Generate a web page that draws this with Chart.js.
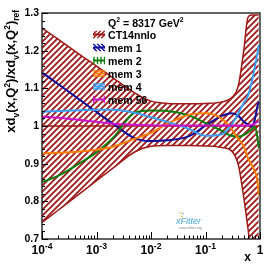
<!DOCTYPE html>
<html>
<head>
<meta charset="utf-8">
<script src="https://cdn.jsdelivr.net/npm/chart.js@4.4.1/dist/chart.umd.min.js"></script>
<style>
html, body { margin: 0; padding: 0; background: #fff; }
canvas { display: block; }
</style>
</head>
<body>
<canvas id="ratio-chart" width="274" height="266"></canvas>
<script>
// x grid shared by every curve
const xValues = [1e-4, 2e-4, 5e-4, 1e-3, 2e-3, 5e-3, 0.01, 0.02, 0.05, 0.1, 0.2, 0.3, 0.4, 0.5, 0.6, 0.7, 0.8, 0.9, 0.95]

// CT14nnlo error band (upper / lower edges) and central value
const ct14Upper = [1.260, 1.230, 1.189, 1.159, 1.128, 1.088, 1.066, 1.060, 1.059, 1.060, 1.064, 1.075, 1.107, 1.197, 1.288, 1.295, 1.295, 1.295, 1.295]
const ct14Lower = [0.744, 0.777, 0.821, 0.855, 0.888, 0.931, 0.946, 0.948, 0.948, 0.947, 0.943, 0.934, 0.897, 0.814, 0.729, 0.650, 0.580, 0.520, 0.500]
const ct14Central = [1, 1, 1, 1, 1, 1, 1, 1, 1, 1, 1, 1, 1, 1, 1, 1, 1, 1, 1]

// members
const mem1 = [1.142, 1.111, 1.069, 1.037, 1.006, 0.968, 0.960, 0.962, 0.973, 1.001, 1.027, 1.034, 1.027, 1.012, 1.004, 0.999, 1.016, 1.053, 1.064]
const mem2 = [0.851, 0.868, 0.902, 0.930, 0.968, 1.035, 1.041, 1.040, 1.028, 1.008, 0.987, 0.974, 0.972, 0.976, 0.983, 0.990, 0.998, 0.968, 0.942]
const mem3 = [0.927, 0.929, 0.932, 0.937, 0.945, 0.966, 0.982, 1.006, 1.030, 1.034, 1.019, 0.992, 0.966, 0.947, 0.915, 0.897, 0.880, 0.855, 0.815]
const mem4 = [1.038, 1.040, 1.042, 1.043, 1.043, 1.035, 1.023, 1.011, 0.992, 0.974, 0.978, 1.003, 1.034, 1.061, 1.080, 1.115, 1.155, 1.194, 1.216]
const mem56 = [1.025, 1.022, 1.016, 1.011, 1.006, 1.003, 1.002, 1.001, 1.001, 1.001, 1.001, 1.001, 1.001, 1.001, 1.002, 1.003, 1.006, 1.011, 1.012]

const seriesNames = ['CT14nnlo', 'mem 1', 'mem 2', 'mem 3', 'mem 4', 'mem 56']
const seriesColors = ['#a01818', '#0c0c9c', '#0a7d0a', '#ff7a00', '#3aa0f5', '#cc10cc']

const yTickValues = [0.7, 0.8, 0.9, 1.0, 1.1, 1.2, 1.3]
const xTickValues = [1e-4, 1e-3, 1e-2, 1e-1, 1]
const xTickBases = ['10', '10', '10', '10', '1']
const xTickExps = ['-4', '-3', '-2', '-1', '']

const FONT = '"Liberation Sans", Arial, Helvetica, sans-serif'

function pts(ys) {
    return xValues.map((x, i) => ({ x: x, y: ys[i] }))
}

function hatch(color, size, lw) {
    const c = document.createElement('canvas')
    c.width = c.height = size
    const g = c.getContext('2d')
    g.strokeStyle = color
    g.lineWidth = lw
    g.beginPath()
    g.moveTo(0, size); g.lineTo(size, 0)
    g.moveTo(-size / 2, size / 2); g.lineTo(size / 2, -size / 2)
    g.moveTo(size / 2, size * 1.5); g.lineTo(size * 1.5, size / 2)
    g.stroke()
    return g.createPattern(c, 'repeat')
}

const bandPattern = hatch(seriesColors[0], 6, 1.8)

// text with super/subscripts, parts: [text, shift, scale]
function richText(ctx, parts, x, y, size, measureOnly) {
    let w = 0
    parts.forEach(p => {
        const s = size * (p[2] || 1)
        ctx.font = 'bold ' + s + 'px ' + FONT
        if (!measureOnly) ctx.fillText(p[0], x + w, y + (p[1] || 0) * size)
        w += ctx.measureText(p[0]).width
    })
    return w
}

function line(ctx, x1, y1, x2, y2) {
    ctx.beginPath(); ctx.moveTo(x1, y1); ctx.lineTo(x2, y2); ctx.stroke()
}

const decorations = {
    id: 'decorations',
    afterDraw(chart) {
        const { ctx, chartArea: a, scales: { x, y } } = chart
        ctx.save()

        // frame
        ctx.strokeStyle = '#222'
        ctx.lineWidth = 1.4
        ctx.strokeRect(a.left, a.top, a.right - a.left, a.bottom - a.top)

        // inner ticks
        ctx.lineWidth = 1
        ctx.strokeStyle = '#000'
        ctx.beginPath()
        for (let i = 0; i <= 30; i++) {
            const py = Math.round(y.getPixelForValue(0.7 + i * 0.02)) + 0.5
            const len = i % 5 === 0 ? 6 : 3
            ctx.moveTo(a.left, py); ctx.lineTo(a.left + len, py)
        }
        for (let e = -4; e <= 0; e++) {
            for (let m = 1; m < 10; m++) {
                const v = m * Math.pow(10, e)
                if (v > 1) break
                const px = Math.round(x.getPixelForValue(v)) + 0.5
                const len = m === 1 ? 7 : 3.5
                ctx.moveTo(px, a.bottom); ctx.lineTo(px, a.bottom - len)
            }
        }
        ctx.stroke()

        // x tick labels
        ctx.fillStyle = '#000'
        ctx.textBaseline = 'alphabetic'
        ctx.textAlign = 'left'
        xTickValues.forEach((v, i) => {
            const parts = [[xTickBases[i]]]
            if (xTickExps[i]) parts.push([xTickExps[i], -0.42, 0.72])
            const w = richText(ctx, parts, 0, 0, 12, true)
            const px = x.getPixelForValue(v)
            richText(ctx, parts, px - w / 2, 254, 12)
        })

        // axis titles
        ctx.font = 'bold 12px ' + FONT
        ctx.textAlign = 'right'
        ctx.fillText('x', 251, 261)
        ctx.textAlign = 'left'

        const yTitle = [['xd'], ['v', 0.3, 0.65], ['(x,Q'], ['2', -0.4, 0.65], [')/xd'], ['v', 0.3, 0.65],
                        ['(x,Q'], ['2', -0.4, 0.65], [')'], ['ref', 0.3, 0.65]]
        ctx.save()
        ctx.translate(15, 10)
        ctx.rotate(-Math.PI / 2)
        const tw = richText(ctx, yTitle, 0, 0, 13, true)
        richText(ctx, yTitle, -tw, 0, 13)
        ctx.restore()

        // legend
        const lx = 93, tx = 108
        richText(ctx, [['Q'], ['2', -0.4, 0.65], [' = 8317 GeV'], ['2', -0.4, 0.65]], tx, 26.5, 10.6)
        const rows = [34.5, 47.5, 60.5, 73.5, 86.5, 99.5]
        seriesNames.forEach((name, i) => {
            const cy = rows[i]
            const col = seriesColors[i]
            ctx.save()
            ctx.beginPath()
            ctx.rect(lx, cy - 4, 12, 8)
            ctx.clip()
            ctx.strokeStyle = col
            ctx.lineWidth = 1.3
            if (i === 0) {
                for (let k = -12; k < 16; k += 4) line(ctx, lx + k, cy + 4, lx + k + 8, cy - 4)
            } else if (i === 1) {
                for (let k = -12; k < 16; k += 4) line(ctx, lx + k, cy - 4, lx + k + 8, cy + 4)
            } else if (i === 2) {
                for (let k = 1; k < 12; k += 3.5) line(ctx, lx + k, cy - 4, lx + k, cy + 4)
            } else if (i === 3) {
                line(ctx, lx, cy - 2.5, lx + 12, cy - 2.5); line(ctx, lx, cy + 2.5, lx + 12, cy + 2.5)
            } else if (i === 4) {
                line(ctx, lx, cy - 2.5, lx + 12, cy - 2.5); line(ctx, lx, cy + 2.5, lx + 12, cy + 2.5)
                line(ctx, lx + 2, cy + 4, lx + 10, cy - 4)
            } else {
                line(ctx, lx + 0.7, cy - 4, lx + 0.7, cy + 4); line(ctx, lx + 11.3, cy - 4, lx + 11.3, cy + 4)
            }
            ctx.restore()
            ctx.strokeStyle = col
            ctx.lineWidth = 2
            line(ctx, lx, cy, lx + 12, cy)
            ctx.fillStyle = '#000'
            richText(ctx, [[name]], tx, cy + 4, 10.6)
        })

        // xFitter logo
        ctx.fillStyle = '#f2c230'
        ;[[180, 212], [181.5, 215.5], [179, 218.5]].forEach(p => { ctx.fillRect(p[0], p[1], 1.5, 1.5) })
        ctx.fillStyle = '#4aa8e0'
        ctx.fillRect(182.5, 213, 1.2, 1.2)
        ctx.font = 'italic 9px ' + FONT
        ctx.fillText('xFitter', 176, 224)
        ctx.fillStyle = '#888'
        ctx.font = '3.5px ' + FONT
        ctx.fillText('www.xfitter.org', 179, 229)

        ctx.restore()
    }
}

const ctx = document.getElementById('ratio-chart')
const ratioChart = new Chart(ctx, {
    type: 'line',
    data: {
        datasets: [{
            label: 'CT14nnlo up',
            data: pts(ct14Upper),
            borderColor: seriesColors[0],
            borderWidth: 1.5,
            backgroundColor: bandPattern,
            fill: '+1',
            order: 10
        }, {
            label: 'CT14nnlo down',
            data: pts(ct14Lower),
            borderColor: seriesColors[0],
            borderWidth: 1.5,
            fill: false,
            order: 11
        }, {
            label: seriesNames[0],
            data: pts(ct14Central),
            borderColor: seriesColors[0],
            borderWidth: 1.5,
            fill: false,
            order: 9
        }, {
            label: seriesNames[1],
            data: pts(mem1),
            borderColor: seriesColors[1],
            order: 5
        }, {
            label: seriesNames[2],
            data: pts(mem2),
            borderColor: seriesColors[2],
            order: 4
        }, {
            label: seriesNames[3],
            data: pts(mem3),
            borderColor: seriesColors[3],
            order: 3
        }, {
            label: seriesNames[4],
            data: pts(mem4),
            borderColor: seriesColors[4],
            order: 2
        }, {
            label: seriesNames[5],
            data: pts(mem56),
            borderColor: seriesColors[5],
            order: 1
        }]
    },
    options: {
        responsive: false,
        animation: false,
        devicePixelRatio: 1,
        layout: { padding: { top: 13, right: 14, left: 0, bottom: 0 } },
        elements: {
            point: { radius: 0 },
            line: { borderWidth: 2, cubicInterpolationMode: 'monotone', fill: false }
        },
        plugins: {
            legend: { display: false },
            tooltip: { enabled: false }
        },
        scales: {
            x: {
                type: 'logarithmic',
                min: 1e-4,
                max: 1,
                grid: { display: false, drawTicks: false },
                border: { display: false },
                ticks: { display: false },
                afterFit: (s) => { s.height = 27 }
            },
            y: {
                min: 0.7,
                max: 1.3,
                grid: { display: false, drawTicks: false },
                border: { display: false },
                afterBuildTicks: (s) => { s.ticks = yTickValues.map(v => ({ value: v })) },
                ticks: {
                    color: '#000',
                    padding: 3,
                    font: { family: FONT, size: 10.5, weight: 'bold' },
                    callback: (v) => String(Math.round(v * 10) / 10)
                },
                afterFit: (s) => { s.width = 42 }
            }
        }
    },
    plugins: [decorations]
})
</script>
</body>
</html>
